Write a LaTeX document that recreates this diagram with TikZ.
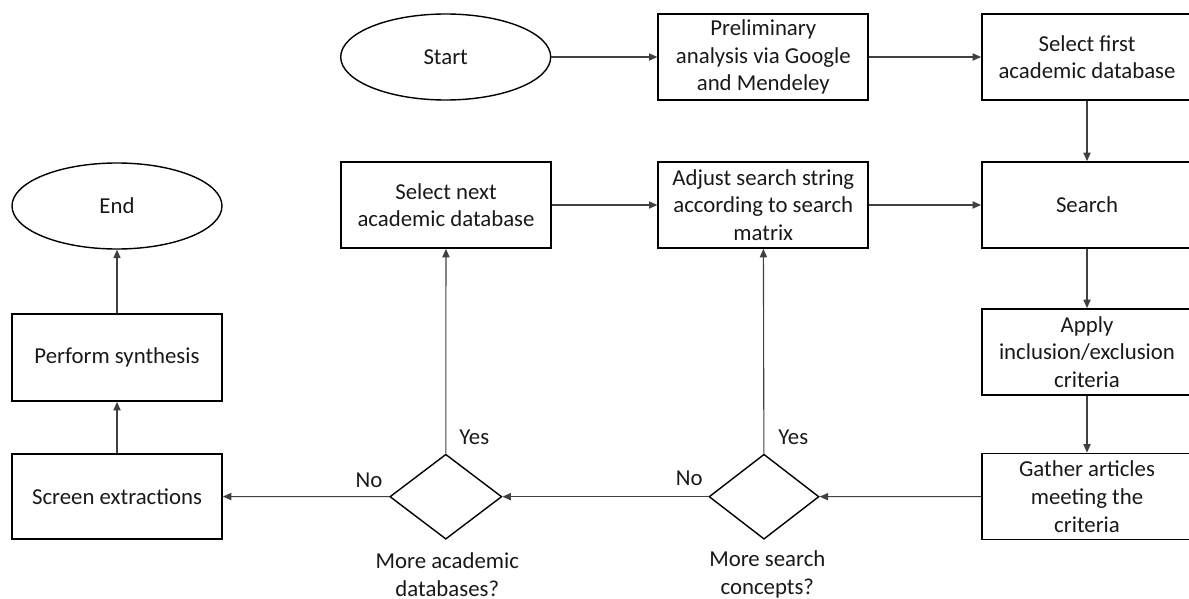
\documentclass[tikz,border=0pt]{standalone}
\usepackage{fontspec}
\setmainfont{Carlito}
\usetikzlibrary{shapes.geometric,arrows.meta}
\begin{document}
\begin{tikzpicture}[x=0.5pt,y=-0.5pt,
  every node/.style={font=\fontsize{11.4}{13.8}\selectfont, text=black!90},
  box/.style={draw=black, line width=0.9pt, rectangle, minimum width=105pt, minimum height=43pt, align=center, inner sep=0pt},
  oval/.style={draw=black, line width=0.7pt, ellipse, minimum width=105pt, minimum height=43pt, inner sep=0pt},
  decision/.style={draw=black, line width=0.7pt, diamond, minimum width=#1, minimum height=42.5pt, inner sep=0pt},
  flow/.style={draw=black!75, line width=0.55pt, -{Triangle[length=4.2pt,width=3.6pt]}},
  tag/.style={inner sep=0pt}
]
\useasboundingbox (0,0) rectangle (1189,599);

% top row
\node[oval] (start) at (445.7,57) {Start};
\node[box] (prelim) at (763.3,57) {Preliminary\\analysis via Google\\and Mendeley};
\node[box] (first) at (1087,57) {Select first\\academic database};

% middle row
\node[oval] (end) at (117,206) {End};
\node[box] (next) at (446,205) {Select next\\academic database};
\node[box] (adjust) at (763.3,205) {Adjust search string\\according to search\\matrix};
\node[box] (search) at (1087,205) {Search};

% right column
\node[box] (apply) at (1087,352) {Apply\\inclusion/exclusion\\criteria};
\node[box, font=\fontsize{11.4}{14}\selectfont] (gather) at (1087,496.5) {Gather articles\\meeting the\\criteria};

% bottom row
\node[decision=55pt] (dsearch) at (764,496.7) {};
\node[decision=56pt] (ddb) at (445.8,496.7) {};
\node[box, minimum height=42.5pt] (screen) at (117,496.5) {Screen extractions};
\node[box, minimum height=43.5pt] (synth) at (117,357.5) {Perform synthesis};

% decision captions and branch labels
\node[tag, align=center] (qdb) at (447.3,574.5) {More academic\\databases?};
\node[tag, align=center] (qsearch) at (767.3,574.5) {More search\\concepts?};
\node[tag] (yesdb) at (474.3,437.7) {Yes};
\node[tag] (yessearch) at (793.3,437.7) {Yes};
\node[tag] (nodb) at (369,480.7) {No};
\node[tag] (nosearch) at (689.3,478.3) {No};

% connectors
\draw[flow] (start) -- (prelim);
\draw[flow] (prelim) -- (first);
\draw[flow] (first) -- (search);
\draw[flow] (search) -- (apply);
\draw[flow] (apply) -- (gather);
\draw[flow] (gather) -- (dsearch);
\draw[flow] (dsearch) -- (ddb);
\draw[flow] (ddb) -- (screen);
\draw[flow] (screen) -- (synth);
\draw[flow] (synth) -- (end);
\draw[flow] (dsearch) -- (adjust);
\draw[flow] (ddb) -- (next);
\draw[flow] (next) -- (adjust);
\draw[flow] (adjust) -- (search);
\end{tikzpicture}
\end{document}
